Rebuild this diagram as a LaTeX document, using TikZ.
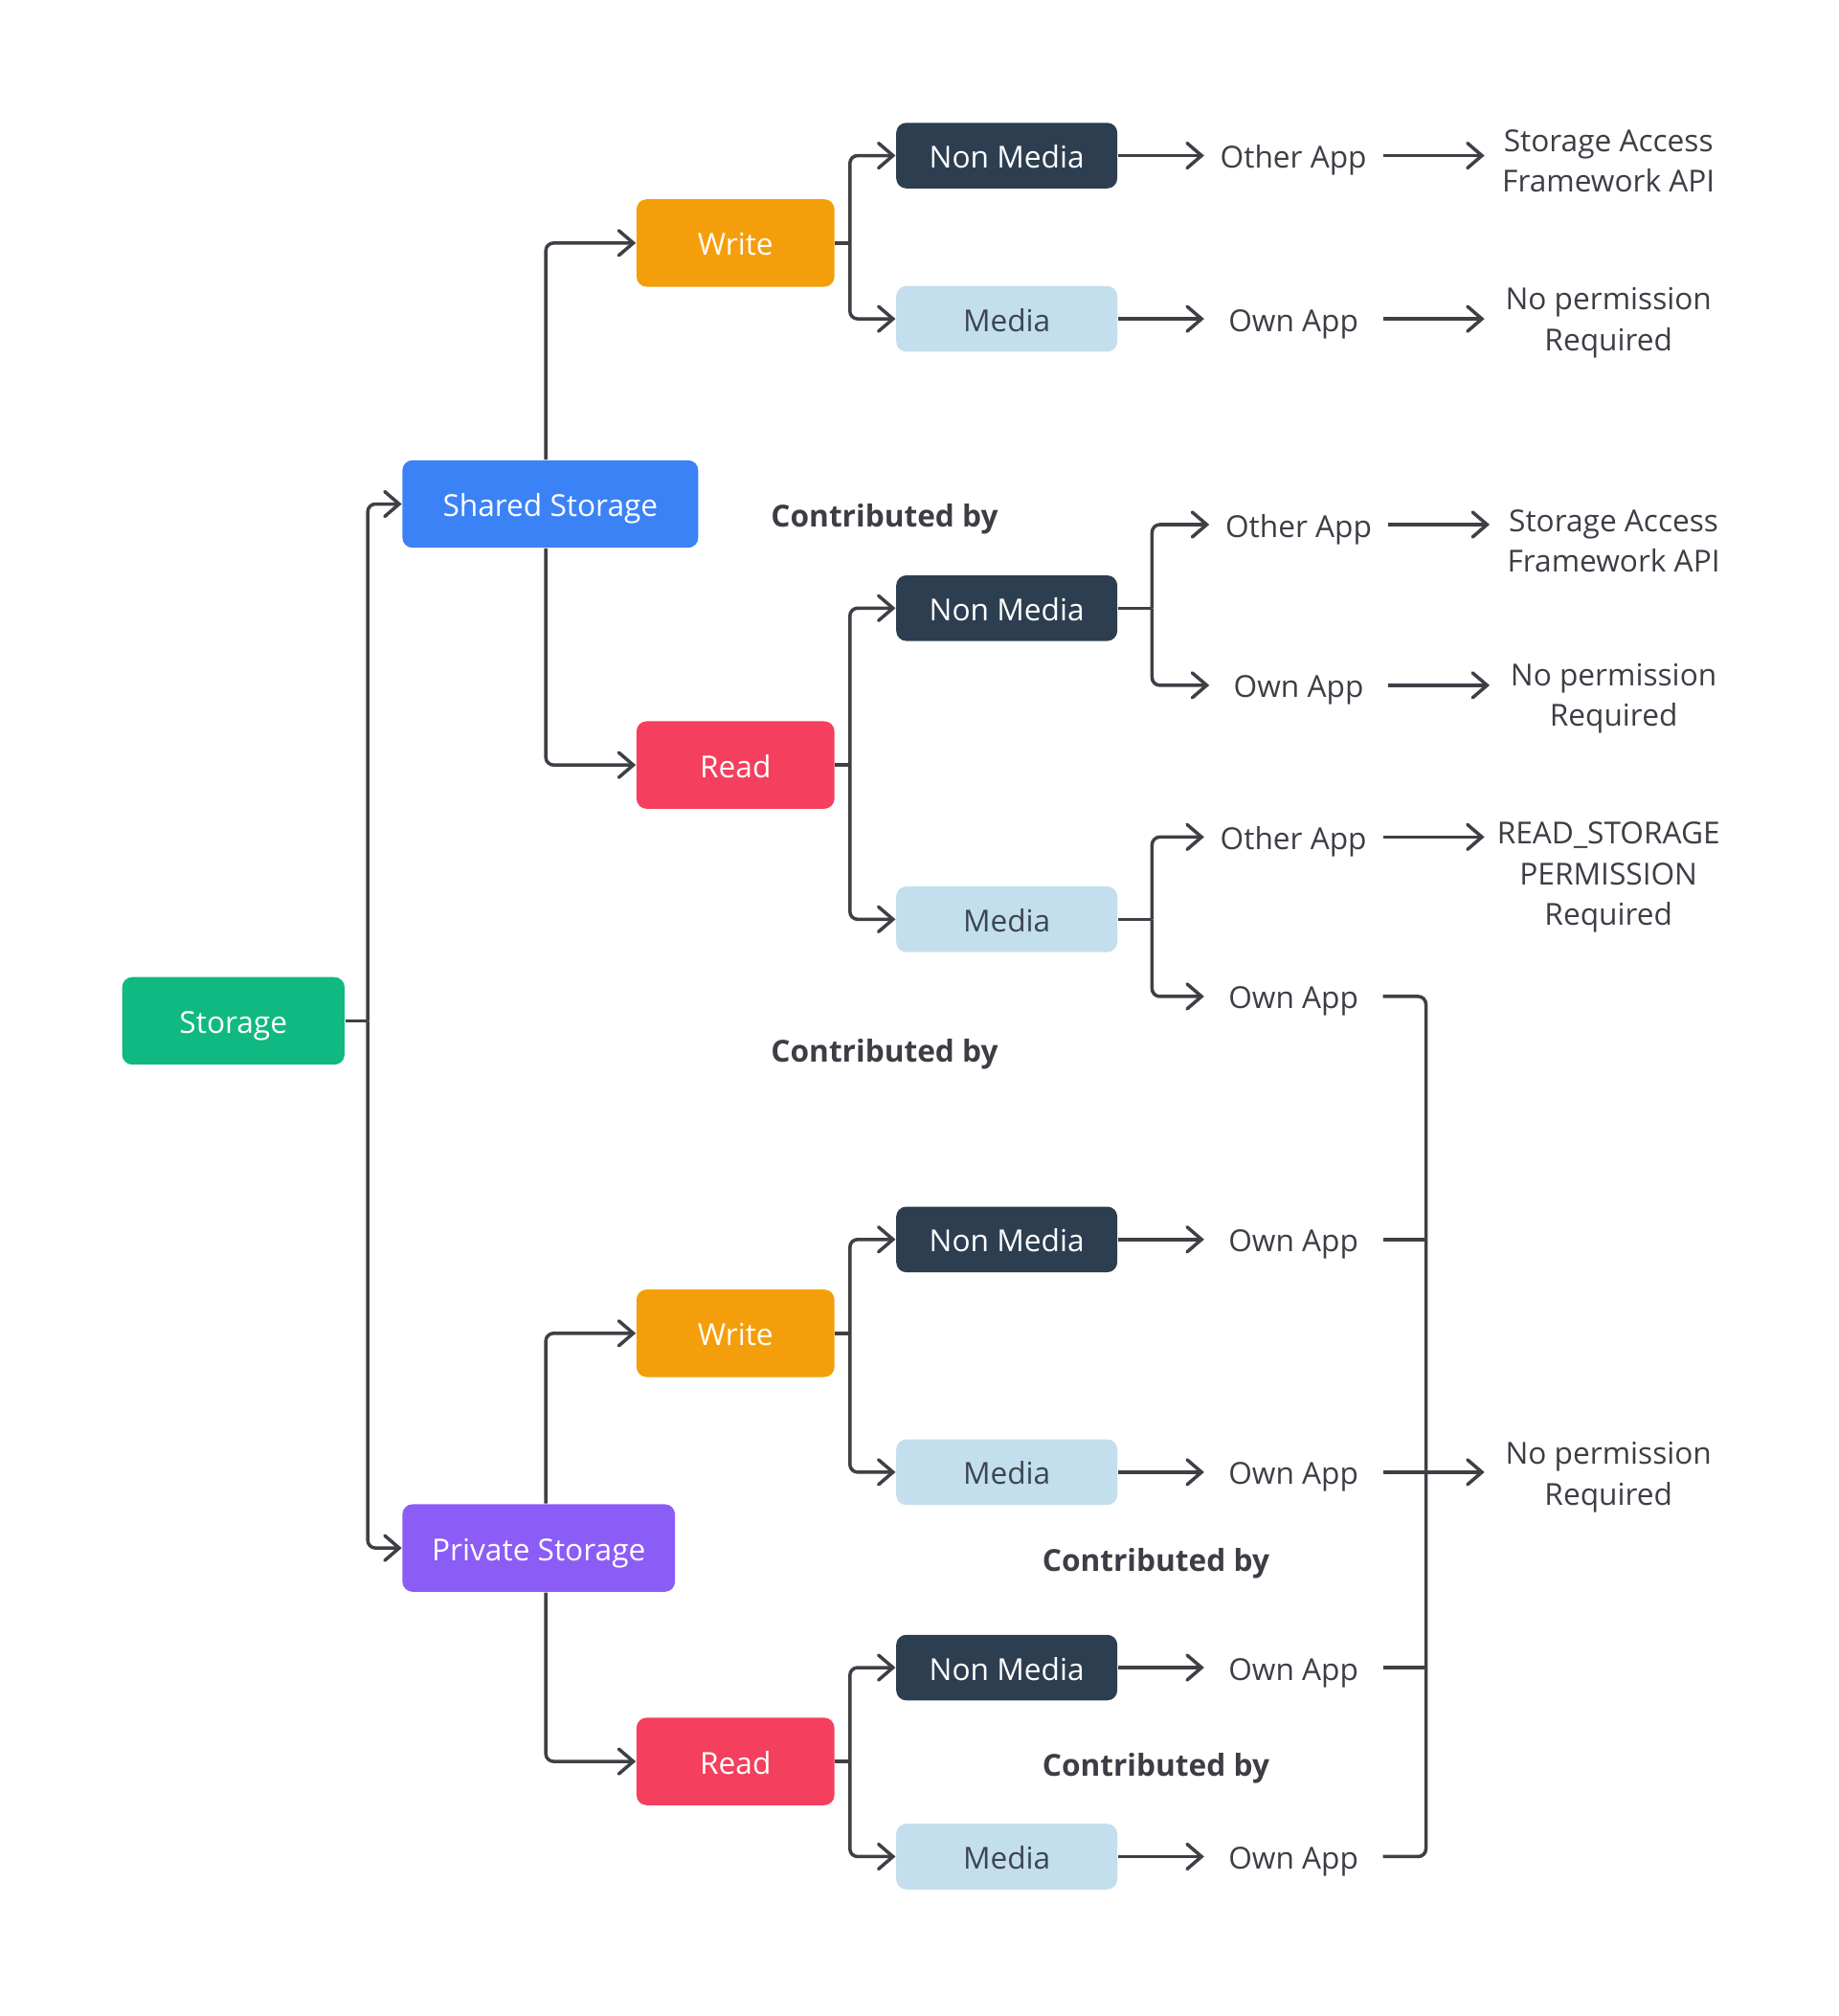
\documentclass[tikz,border=0pt]{standalone}
\usepackage{fontspec}
\setmainfont{Open Sans}
\usetikzlibrary{arrows.meta}
\definecolor{lnc}{HTML}{3F4046}
\definecolor{txc}{HTML}{3D3E45}
\definecolor{cgreen}{HTML}{10B981}
\definecolor{cblue}{HTML}{3B82F6}
\definecolor{cpurple}{HTML}{8B5CF6}
\definecolor{corange}{HTML}{F59E0B}
\definecolor{cred}{HTML}{F43F5E}
\definecolor{cdark}{HTML}{2D3E50}
\definecolor{clight}{HTML}{C3DFEE}
\definecolor{cmtxt}{HTML}{3C4650}
\tikzset{
  box/.style={rounded corners=3pt, inner sep=0pt, text height=0.98em, text depth=0.24em, font=\fontsize{9}{11}\selectfont},
  lvlA/.style={box, fill=#1, text=white, minimum height=26pt},
  lvlM/.style={box, minimum width=65.7pt, minimum height=19.5pt},
  wr/.style={box, fill=#1, text=white, minimum width=58.8pt, minimum height=26pt},
  app/.style={inner sep=0pt, minimum width=52.7pt, text height=0.98em, text depth=0.24em, text=txc, font=\fontsize{9}{11}\selectfont},
  res/.style={inner sep=0pt, minimum width=73.3pt, align=center, text=txc, font=\fontsize{9}{12}\selectfont},
  contrib/.style={inner sep=0pt, text=txc, font=\fontsize{9}{11}\selectfont\bfseries},
  ln/.style={draw=lnc, line width=1pt, rounded corners=2.3pt},
  arr/.style={ln, -{Straight Barb[length=4.3pt,width=7.4pt,line cap=round]}},
}
\begin{document}
\begin{tikzpicture}[x=0.013427cm, y=-0.013427cm]
\useasboundingbox (0,0) rectangle (1430,1568);
% level 0-1
\node[lvlA=cgreen, minimum width=66.1pt] (storage) at (181.5,794) {Storage};
\node[lvlA=cblue, minimum width=87.9pt] (shared) at (428,392) {Shared Storage};
\node[lvlA=cpurple, minimum width=81pt] (private) at (419,1204) {Private Storage};
% level 2
\node[wr=corange] (w1) at (572,189) {Write};
\node[wr=cred] (r1) at (572,595) {Read};
\node[wr=corange] (w2) at (572,1037) {Write};
\node[wr=cred] (r2) at (572,1370) {Read};
% level 3
\node[lvlM, fill=cdark, text=white] (nm1) at (783,121) {Non Media};
\node[lvlM, fill=clight, text=cmtxt] (m1) at (783,248) {Media};
\node[lvlM, fill=cdark, text=white] (nm2) at (783,473) {Non Media};
\node[lvlM, fill=clight, text=cmtxt] (m2) at (783,715) {Media};
\node[lvlM, fill=cdark, text=white] (nm3) at (783,964) {Non Media};
\node[lvlM, fill=clight, text=cmtxt] (m3) at (783,1145) {Media};
\node[lvlM, fill=cdark, text=white] (nm4) at (783,1297) {Non Media};
\node[lvlM, fill=clight, text=cmtxt] (m4) at (783,1444) {Media};
% contributed by
\node[contrib] (cb1) at (688,404) {Contributed by};
\node[contrib] (cb2) at (688,820) {Contributed by};
\node[contrib] (cb3) at (899,1216) {Contributed by};
\node[contrib] (cb4) at (899,1375) {Contributed by};
% apps
\node[app] (oa1) at (1006,121) {Other App};
\node[app] (ow1) at (1006,248) {Own App};
\node[app] (oa2) at (1010,408) {Other App};
\node[app] (ow2) at (1010,533) {Own App};
\node[app] (oa3) at (1006,651) {Other App};
\node[app] (ow3) at (1006,775) {Own App};
\node[app] (ow4) at (1006,964) {Own App};
\node[app] (ow5) at (1006,1145) {Own App};
\node[app] (ow6) at (1006,1297) {Own App};
\node[app] (ow7) at (1006,1444) {Own App};
% results
\node[res] (sa1) at (1251,125) {Storage Access\\Framework API};
\node[res] (np1) at (1251,251) {No permission\\Required};
\node[res] (sa2) at (1255,421) {Storage Access\\Framework API};
\node[res] (np2) at (1255,543) {No permission\\Required};
\node[res, anchor=north] (rs) at (1251,639) {READ\_STORAGE\\PERMISSION\\Required};
\node[res] (np3) at (1251,1149) {No permission\\Required};
% junction coordinates
\coordinate (j0) at (286,794);
\coordinate (sx) at (424.5,0);
\coordinate (jx) at (661,0);
\coordinate (fx) at (896,0);
\coordinate (cx) at (1109,0);
% storage
\draw[ln] (storage.east) -- (j0);
\draw[arr] (j0) |- (shared.west);
\draw[arr] (j0) |- (private.west);
% shared / private
\draw[arr] (shared.north -| sx) |- (w1.west);
\draw[arr] (shared.south -| sx) |- (r1.west);
\draw[arr] (private.north -| sx) |- (w2.west);
\draw[arr] (private.south -| sx) |- (r2.west);
% write/read fans
\foreach \p/\a/\b in {w1/nm1/m1, r1/nm2/m2, w2/nm3/m3, r2/nm4/m4}{
  \draw[ln] (\p.east) -- (\p.east -| jx);
  \draw[arr] (\p.east -| jx) |- (\a.west);
  \draw[arr] (\p.east -| jx) |- (\b.west);
}
% media to apps
\draw[arr] (nm1.east) -- (oa1.west);
\draw[arr] (m1.east) -- (ow1.west);
\draw[ln] (nm2.east) -- (nm2.east -| fx);
\draw[arr] (nm2.east -| fx) |- (oa2.west);
\draw[arr] (nm2.east -| fx) |- (ow2.west);
\draw[ln] (m2.east) -- (m2.east -| fx);
\draw[arr] (m2.east -| fx) |- (oa3.west);
\draw[arr] (m2.east -| fx) |- (ow3.west);
\draw[arr] (nm3.east) -- (ow4.west);
\draw[arr] (m3.east) -- (ow5.west);
\draw[arr] (nm4.east) -- (ow6.west);
\draw[arr] (m4.east) -- (ow7.west);
% apps to results
\draw[arr] (oa1.east) -- (oa1.east -| sa1.west);
\draw[arr] (ow1.east) -- (ow1.east -| np1.west);
\draw[arr] (oa2.east) -- (oa2.east -| sa2.west);
\draw[arr] (ow2.east) -- (ow2.east -| np2.west);
\draw[arr] (oa3.east) -- (oa3.east -| rs.west);
% collector
\draw[ln] (ow3.east) -| (ow7.east -| cx) -- (ow7.east);
\draw[ln] (ow4.east) -- (ow4.east -| cx);
\draw[ln] (ow6.east) -- (ow6.east -| cx);
\draw[arr] (ow5.east) -- (ow5.east -| np3.west);
\end{tikzpicture}
\end{document}
